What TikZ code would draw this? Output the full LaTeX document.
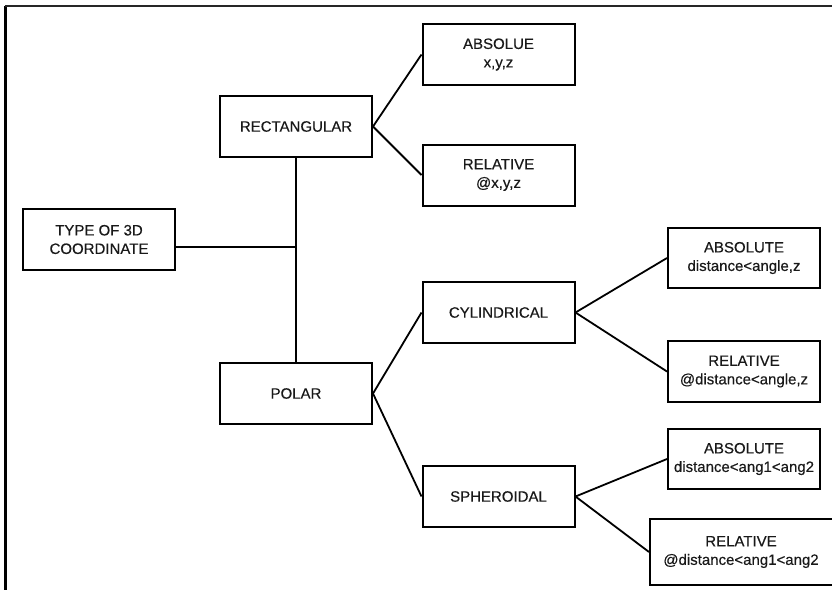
\documentclass[tikz,border=0pt]{standalone}
\usepackage{fontspec}
\setmainfont{Liberation Sans}
\usepackage{tikz}
\colorlet{box edge}{black}
\colorlet{link}{black}
\tikzset{item/.style={draw=box edge, line width=2pt, minimum width=152pt, minimum height=61pt,
        inner sep=0pt, align=center, text=black!90,
        font=\fontsize{15}{18.5}\selectfont\addfontfeatures{FakeBold=0.35}},
    branch/.style={draw=link, line width=1.8pt}}

\begin{document}
\begin{tikzpicture}[x=1pt, y=-1pt]
    \clip (0,0) rectangle (832,590);
    \fill[white] (0,0) rectangle (832,590);
    % frame
    \draw[line width=3pt] (5.5,5.5) -- (5.5,590);
    \draw[line width=2pt, black!85] (5,6.3) -- (832,6.3);
    % root and first level
    \node[item] (type) at (99,239.5) {TYPE OF 3D\\COORDINATE};
    \node[item] (rect) at (296,126.5) {RECTANGULAR};
    \node[item] (polar) at (296,393.5) {POLAR};
    % second level
    \node[item] (absxyz) at (498.5,54.5) {ABSOLUE\\x,y,z};
    \node[item] (relxyz) at (498.5,175) {RELATIVE\\@x,y,z};
    \node[item] (cyl) at (498.5,312.5) {CYLINDRICAL};
    \node[item] (sph) at (498.5,496.5) {SPHEROIDAL};
    % third level
    \node[item, minimum height=60pt] (abscyl) at (744,258) {ABSOLUTE\\distance<angle,z};
    \node[item] (relcyl) at (744,371.5) {RELATIVE\\@distance<angle,z};
    \node[item, minimum height=60pt] (abssph) at (744,459) {ABSOLUTE\\distance<ang1<ang2};
    \node[item, minimum width=190pt, minimum height=66pt] (relsph) at (745,552)
        {\hspace*{-8pt}RELATIVE\\\hspace*{-8pt}@distance<ang1<ang2};
    % links
    \coordinate (hub) at (296,247);
    \draw[branch] (rect.south) -- (polar.north);
    \draw[branch] (type.east |- hub) -- (hub);
    \draw[branch] (rect.east) -- (absxyz.west);
    \draw[branch] (rect.east) -- (relxyz.west);
    \draw[branch] (polar.east) -- (cyl.west);
    \draw[branch] (polar.east) -- (sph.west);
    \draw[branch] (cyl.east) -- (abscyl.west);
    \draw[branch] (cyl.east) -- (relcyl.west);
    \draw[branch] (sph.east) -- (abssph.west);
    \draw[branch] (sph.east) -- (relsph.west);
\end{tikzpicture}
\end{document}
